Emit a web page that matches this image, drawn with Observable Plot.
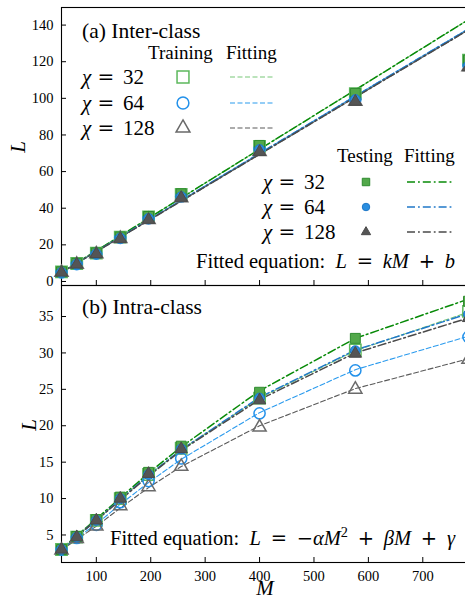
<!DOCTYPE html>
<html>
<head>
<meta charset="utf-8">
<script src="https://cdn.jsdelivr.net/npm/d3@7"></script>
<script src="https://cdn.jsdelivr.net/npm/@observablehq/plot@0.6"></script>
<style>
  html, body { margin: 0; padding: 0; background: #fff; overflow: hidden; }
  #fig { position: relative; width: 465px; height: 598px; overflow: hidden; background: #fff; }
  #fig svg { position: absolute; left: 0; background: none !important; overflow: visible; }
  #fig text, #fig tspan { white-space: pre; }
</style>
</head>
<body>
<div id="fig"></div>
<script>
// Number of kept states M and bond dimensions chi
const M = [36, 64, 100, 144, 196, 256, 400, 576, 784];
const CHI = [32, 64, 128];
const xTicks = [100, 200, 300, 400, 500, 600, 700];
const yTicksA = [0, 20, 40, 60, 80, 100, 120, 140];
const yTicksB = [5, 10, 15, 20, 25, 30, 35];

// (a) Inter-class: training / testing L and their linear fits
const interTrain32 = [5.2, 9.8, 15.5, 24.2, 35.3, 47.6, 73.8, 102.5, 120.8];
const interTrain64 = [5.0, 9.5, 15.2, 23.8, 34.5, 46.4, 72.3, 99.4, 118.0];
const interTrain128 = [4.9, 9.3, 15.0, 23.4, 33.8, 45.6, 70.9, 98.3, 117.2];
const interTest32 = [5.3, 9.9, 15.6, 24.3, 35.5, 47.9, 74.3, 102.7, 120.9];
const interTest64 = [5.0, 9.5, 15.1, 23.7, 34.4, 46.3, 72.0, 99.3, 117.8];
const interTest128 = [4.9, 9.3, 15.0, 23.3, 33.7, 45.7, 70.8, 98.2, 117.0];
const interFitTrain32 = [5.0, 10.2, 16.8, 24.9, 34.5, 45.6, 72.2, 104.6, 143.0];
const interFitTrain64 = [5.0, 10.0, 16.4, 24.3, 33.6, 44.3, 69.9, 101.3, 138.0];
const interFitTrain128 = [5.0, 9.9, 16.3, 24.1, 33.3, 43.9, 69.4, 100.6, 137.4];
const interFitTest32 = [5.0, 10.2, 16.8, 24.9, 34.5, 45.6, 72.2, 104.6, 143.0];
const interFitTest64 = [5.0, 10.0, 16.4, 24.3, 33.6, 44.3, 69.9, 101.2, 137.9];
const interFitTest128 = [5.0, 9.9, 16.3, 24.1, 33.3, 43.9, 69.4, 100.6, 137.4];

// (b) Intra-class: training / testing L and their quadratic fits
const intraTrain32 = [3.0, 4.7, 7.0, 10.0, 13.3, 16.9, 23.8, 30.4, 35.7];
const intraTrain64 = [3.0, 4.6, 6.4, 9.5, 12.4, 15.5, 21.7, 27.6, 32.2];
const intraTrain128 = [2.9, 4.5, 6.2, 9.0, 11.6, 14.4, 19.8, 25.0, 29.1];
const intraTest32 = [3.0, 4.8, 7.1, 10.2, 13.6, 17.2, 24.6, 32.0, 37.1];
const intraTest64 = [3.0, 4.7, 7.0, 10.0, 13.3, 16.8, 23.8, 30.3, 35.3];
const intraTest128 = [3.0, 4.7, 7.0, 10.0, 13.4, 16.8, 23.5, 29.9, 34.8];
const intraFitTrain32 = [3.0, 4.8, 7.0, 9.9, 13.2, 16.7, 23.8, 30.3, 35.6];
const intraFitTrain64 = [3.0, 4.6, 6.5, 9.2, 12.2, 15.4, 21.8, 27.7, 32.3];
const intraFitTrain128 = [2.9, 4.4, 6.2, 8.7, 11.5, 14.4, 20.0, 25.1, 29.2];
const intraFitTest32 = [3.1, 4.9, 7.2, 10.1, 13.5, 17.1, 24.8, 32.0, 37.4];
const intraFitTest64 = [3.0, 4.8, 7.0, 9.9, 13.2, 16.7, 23.9, 30.4, 35.4];
const intraFitTest128 = [3.0, 4.8, 7.0, 9.8, 13.1, 16.6, 23.6, 30.0, 34.8];

// Styles
const SERIF = "'Liberation Serif', 'Times New Roman', serif";
const MATHSYM = "'DejaVu Serif', serif";
const symbolOf = {32: "square", 64: "circle", 128: "triangle"};
const d3Symbol = {32: d3.symbolSquare, 64: d3.symbolCircle, 128: d3.symbolTriangle};
const rOpen = {32: 6.4, 64: 5.6, 128: 4.9};
const rFill = {32: 5.6, 64: 5.0, 128: 4.6};
const trainColor = {32: "#5cb85c", 64: "#2391ea", 128: "#6a6a6a"};
const trainFitColor = {32: "#78c878", 64: "#2b9bee", 128: "#5a5a5a"};
const testFill = {32: "#52a84a", 64: "#2a8ee0", 128: "#555555"};
const testEdge = {32: "#2e8b2e", 64: "#1f78c8", 128: "#4a4a4a"};
const testFitColor = {32: "#088a08", 64: "#2078c8", 128: "#4a4a4a"};
const DASH = "5,2.5";
const DASHDOT = "8,3,1.8,3";
const SP = "\u2002"; // wider gap around binary operators

const rows = (vals) => M.map((m, i) => ({M: m, L: vals[i]}));

const fig = document.getElementById("fig");

function panel({top, height, marginTop, marginBottom, yDomain, yTicks, xLabels, train, test, fitTrain, fitTest}) {
  const marks = [Plot.frame({stroke: "black", strokeWidth: 1.1})];
  CHI.forEach((c) => marks.push(Plot.line(rows(fitTrain[c]), {
    x: "M", y: "L", stroke: trainFitColor[c], strokeWidth: 1.1, strokeDasharray: DASH
  })));
  CHI.forEach((c) => marks.push(Plot.line(rows(fitTest[c]), {
    x: "M", y: "L", stroke: testFitColor[c], strokeWidth: 1.5, strokeDasharray: DASHDOT
  })));
  CHI.forEach((c) => marks.push(Plot.dot(rows(train[c]), {
    x: "M", y: "L", symbol: symbolOf[c], r: rOpen[c], fill: "none", stroke: trainColor[c], strokeWidth: 1.5
  })));
  CHI.forEach((c) => marks.push(Plot.dot(rows(test[c]), {
    x: "M", y: "L", symbol: symbolOf[c], r: rFill[c], fill: testFill[c], stroke: testEdge[c], strokeWidth: 1
  })));
  // inward ticks
  marks.push(Plot.ruleY(yTicks, {y: (d) => d, x1: M[0], x2: M[0], insetRight: -5, stroke: "black", strokeWidth: 1}));
  marks.push(Plot.ruleX(xTicks, {x: (d) => d, y1: yDomain[0], y2: yDomain[0], insetBottom: 5, stroke: "black", strokeWidth: 1}));
  marks.push(Plot.axisY({ticks: yTicks, tickSize: 0, tickPadding: 8, label: null, fontSize: 14.5}));
  if (xLabels) marks.push(Plot.axisX({ticks: xTicks, tickSize: 0, tickPadding: 8, label: null, fontSize: 14.5}));
  const svg = Plot.plot({
    width: 465, height,
    marginLeft: 61, marginRight: -3, marginTop, marginBottom,
    x: {domain: [M[0], M[M.length - 1]], axis: xLabels ? undefined : null},
    y: {domain: yDomain},
    style: {fontFamily: SERIF, fontSize: "14.5px", color: "black", background: "none"},
    marks
  });
  svg.style.top = top + "px";
  fig.appendChild(svg);
  return d3.select(svg);
}

// helper: text made of roman / italic / symbol runs
function richText(g, x, y, parts, size, anchor = "start") {
  const t = g.append("text").attr("x", x).attr("y", y)
    .attr("font-family", SERIF).attr("font-size", size).attr("fill", "black")
    .attr("text-anchor", anchor);
  parts.forEach(([s, kind]) => {
    const ts = t.append("tspan").text(s);
    if (kind === "i") ts.attr("font-style", "italic");
    if (kind === "s") ts.attr("font-family", MATHSYM).attr("font-size", size * 0.95);
    if (kind === "sup") ts.attr("font-size", size * 0.7).attr("baseline-shift", "super");
  });
  return t;
}

function chiLabel(g, x, y, c) {
  g.append("text").attr("x", x).attr("y", y).attr("text-anchor", "start").attr("font-family", SERIF)
    .attr("font-style", "italic").attr("font-size", 21).text("χ");
  g.append("text").attr("x", x + 24).attr("y", y).attr("font-family", MATHSYM).attr("text-anchor", "middle")
    .attr("font-size", 20).text("=");
  g.append("text").attr("x", x + 41).attr("y", y).attr("text-anchor", "start").attr("font-family", SERIF)
    .attr("font-size", 21).text(String(c));
}

function legendMarker(g, x, y, c, r, filled) {
  g.append("path")
    .attr("transform", `translate(${x},${y})`)
    .attr("d", d3.symbol(d3Symbol[c], Math.PI * r * r)())
    .attr("fill", filled ? testFill[c] : "none")
    .attr("stroke", filled ? testEdge[c] : trainColor[c])
    .attr("stroke-width", filled ? 1 : 1.5);
}

function legendLine(g, x1, x2, y, color, dash, w) {
  g.append("line").attr("x1", x1).attr("x2", x2).attr("y1", y).attr("y2", y)
    .attr("stroke", color).attr("stroke-width", w).attr("stroke-dasharray", dash);
}

// ---- (a) Inter-class ----
const A = panel({
  top: 0, height: 286, marginTop: 7, marginBottom: 1,
  yDomain: [-2.2, 149.6], yTicks: yTicksA, xLabels: false,
  train: {32: interTrain32, 64: interTrain64, 128: interTrain128},
  test: {32: interTest32, 64: interTest64, 128: interTest128},
  fitTrain: {32: interFitTrain32, 64: interFitTrain64, 128: interFitTrain128},
  fitTest: {32: interFitTest32, 64: interFitTest64, 128: interFitTest128}
});
{
  const g = A.append("g");
  richText(g, 82, 38, [["(a) Inter-class", "r"]], 21.5);
  richText(g, 148, 59, [["Training", "r"]], 19);
  richText(g, 226, 59, [["Fitting", "r"]], 19);
  [77, 103, 128].forEach((cy, i) => {
    const c = CHI[i];
    chiLabel(g, 82, cy + 7, c);
    legendMarker(g, 183, cy, c, rOpen[c] * 1.05, false);
    legendLine(g, 230, 274, cy, trainFitColor[c], DASH, 1.1);
  });
  richText(g, 337, 162, [["Testing", "r"]], 19);
  richText(g, 404, 162, [["Fitting", "r"]], 19);
  [182, 207, 232].forEach((cy, i) => {
    const c = CHI[i];
    chiLabel(g, 263, cy + 7, c);
    legendMarker(g, 366, cy, c, rFill[c] * 0.75, true);
    legendLine(g, 407, 452, cy, testFitColor[c], DASHDOT, 1.5);
  });
  richText(g, 455, 268, [["Fitted equation:  ", "r"], ["L", "i"], [SP + "=" + SP, "s"], ["kM", "i"],
    [SP + "+" + SP, "s"], ["b", "i"]], 20.5, "end");
  g.append("text").attr("transform", "translate(25,147) rotate(-90)").attr("text-anchor", "middle")
    .attr("font-family", SERIF).attr("font-style", "italic").attr("font-size", 21).text("L");
}

// ---- (b) Intra-class ----
const B = panel({
  top: 280, height: 318, marginTop: 5, marginBottom: 36,
  yDomain: [1.22, 39.26], yTicks: yTicksB, xLabels: true,
  train: {32: intraTrain32, 64: intraTrain64, 128: intraTrain128},
  test: {32: intraTest32, 64: intraTest64, 128: intraTest128},
  fitTrain: {32: intraFitTrain32, 64: intraFitTrain64, 128: intraFitTrain128},
  fitTest: {32: intraFitTest32, 64: intraFitTest64, 128: intraFitTest128}
});
{
  const g = B.append("g");
  richText(g, 82, 34, [["(b) Intra-class", "r"]], 21.5);
  richText(g, 455, 265, [["Fitted equation:  ", "r"], ["L", "i"], [SP + "=" + SP, "s"], ["−", "s"], ["αM", "i"], ["2", "sup"],
    [SP + "+" + SP, "s"], ["βM", "i"], [SP + "+" + SP, "s"], ["γ", "i"]], 20.5, "end");
  g.append("text").attr("transform", "translate(36,145) rotate(-90)").attr("text-anchor", "middle")
    .attr("font-family", SERIF).attr("font-style", "italic").attr("font-size", 21).text("L");
  g.append("text").attr("x", 265).attr("y", 315).attr("text-anchor", "middle")
    .attr("font-family", SERIF).attr("font-style", "italic").attr("font-size", 21).text("M");
}
</script>
</body>
</html>
